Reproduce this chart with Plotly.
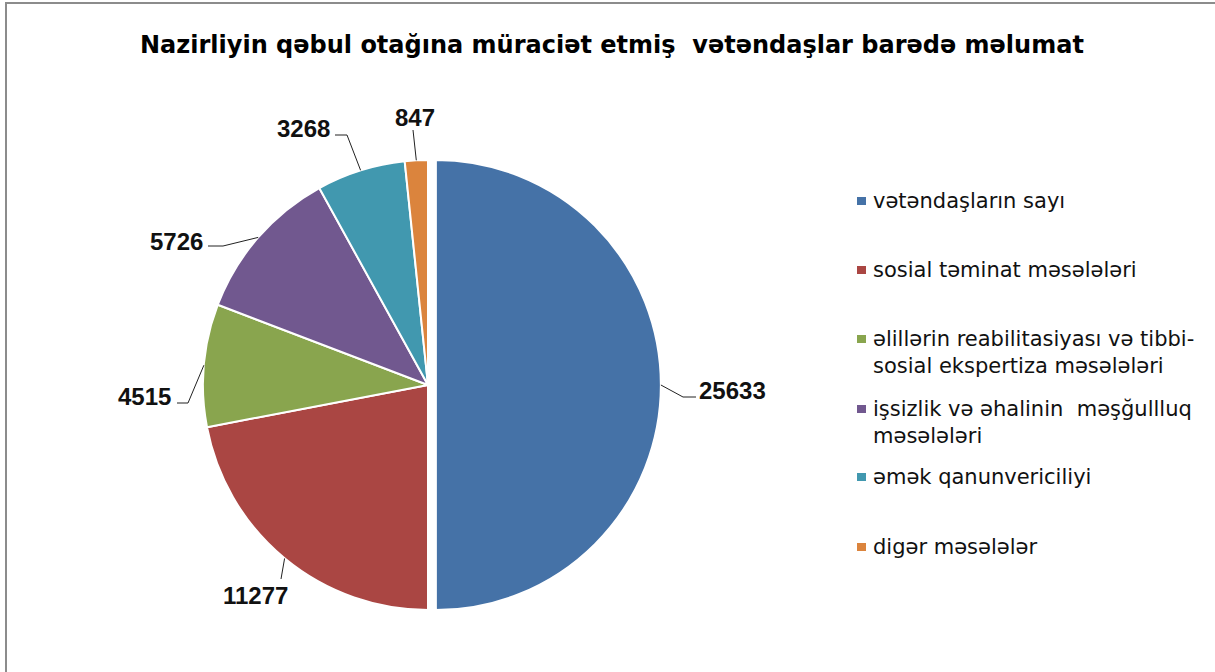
import math
import plotly.graph_objects as go

W, H = 1215, 672

categories = [
    "vətəndaşların sayı",
    "sosial təminat məsələləri",
    "əlillərin reabilitasiyası və tibbi-<br>sosial ekspertiza məsələləri",
    "işsizlik və əhalinin  məşğullluq<br>məsələləri",
    "əmək qanunvericiliyi",
    "digər məsələlər",
]
values = [25633, 11277, 4515, 5726, 3268, 847]
colors = ["#4572A7", "#AA4643", "#89A54E", "#71588F", "#4198AF", "#DB843D"]
pulls = [0.035, 0, 0, 0, 0, 0]

title = "Nazirliyin qəbul otağına müraciət etmiş  vətəndaşlar barədə məlumat"

# layout constants (pixels)
CX, CY, R = 428, 385, 225
half = R * (1 + max(pulls))
NUMFONT = "Arial, 'Liberation Sans', sans-serif"
TXTFONT = "'DejaVu Sans', Verdana, sans-serif"

fig = go.Figure()
fig.add_trace(go.Pie(
    labels=categories, values=values, sort=False, direction="clockwise",
    rotation=0, pull=pulls, textinfo="none", hoverinfo="label+value",
    marker=dict(colors=colors, line=dict(color="white", width=2)),
    showlegend=False,
    domain=dict(x=[(CX - half) / W, (CX + half) / W],
                y=[(H - (CY + half)) / H, (H - (CY - half)) / H]),
))

# overlay pixel axes for annotations / shapes
fig.add_trace(go.Scatter(x=[0, W], y=[0, H], mode="markers",
                         marker=dict(opacity=0), hoverinfo="skip", showlegend=False))

# label positions (text centre) and elbows of leader lines
label_pos = [(732, 390), (255, 595), (144, 396), (176, 241), (303, 128), (415, 117)]
elbows = [[(683, 397), (696, 397)],
          [(281, 579)],
          [(188, 403), (177, 403)],
          [(223, 246), (208, 246)],
          [(347, 135), (335, 135)],
          [(413, 130)]]

total = sum(values)
cum = 0.0
shapes = []
annotations = []
for i, v in enumerate(values):
    frac = v / total
    mid = (cum + frac / 2) * 2 * math.pi
    cum += frac
    cx = CX + R * pulls[i] * math.sin(mid)
    cy = CY - R * pulls[i] * math.cos(mid)
    ex = cx + R * math.sin(mid)
    ey = cy - R * math.cos(mid)
    pts = [(ex, ey)] + elbows[i]
    path = "M " + " L ".join(f"{x:.1f},{y:.1f}" for x, y in pts)
    shapes.append(dict(type="path", path=path, xref="x", yref="y",
                       line=dict(color="#222222", width=1)))
    lx, ly = label_pos[i]
    annotations.append(dict(x=lx, y=ly, xref="x", yref="y", text=f"<b>{v}</b>",
                            showarrow=False, font=dict(family=NUMFONT, size=24, color="#111111"),
                            xanchor="center", yanchor="middle"))

# manual legend
legend_rows = [201, 270, 339, 409, 477, 547]
for i, name in enumerate(categories):
    y = legend_rows[i]
    shapes.append(dict(type="rect", xref="x", yref="y", x0=857, x1=866, y0=y - 4, y1=y + 4,
                       fillcolor=colors[i], line=dict(width=0)))
    annotations.append(dict(x=871, y=y - 14, xref="x", yref="y", text=name, showarrow=False,
                            xanchor="left", yanchor="top", align="left",
                            font=dict(family=TXTFONT, size=21, color="#111111")))

# title
annotations.append(dict(x=W / 2 + 4, y=45, xref="x", yref="y", text=f"<b>{title}</b>",
                        showarrow=False, xanchor="center", yanchor="middle",
                        font=dict(family=TXTFONT, size=24, color="#000000")))

# chart border
shapes.append(dict(type="rect", xref="x", yref="y", x0=6, x1=W + 10, y0=3, y1=H + 10,
                   line=dict(color="#8c8c8c", width=2), fillcolor="rgba(0,0,0,0)"))

fig.update_layout(
    width=W, height=H, margin=dict(l=0, r=0, t=0, b=0),
    paper_bgcolor="white", plot_bgcolor="rgba(0,0,0,0)",
    xaxis=dict(range=[0, W], visible=False, fixedrange=True),
    yaxis=dict(range=[H, 0], visible=False, fixedrange=True),
    shapes=shapes, annotations=annotations, showlegend=False,
)

fig.write_html("out.html", config={"displayModeBar": False},
               post_script="document.body.style.margin='0';document.body.style.overflow='hidden';")
